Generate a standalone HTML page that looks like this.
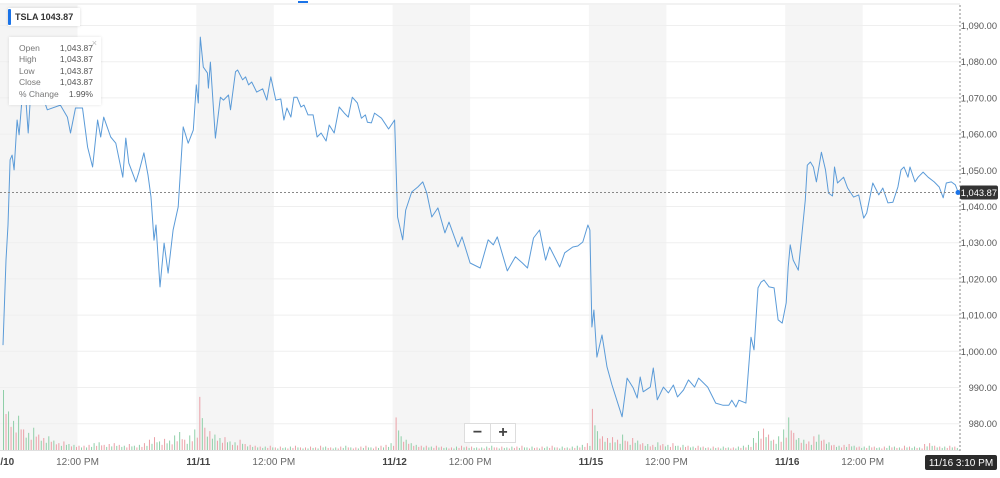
<!DOCTYPE html>
<html><head><meta charset="utf-8">
<style>
body{margin:0;background:#fff;width:1000px;height:478px;overflow:hidden;font-family:"Liberation Sans",sans-serif;}
svg{display:block}
</style></head>
<body>
<svg id="chart" width="1000" height="478" xmlns="http://www.w3.org/2000/svg"></svg>
<script>
// ---- data ----
const days = ["11/10","11/11","11/12","11/15","11/16"];
const yTicks = [980,990,1000,1010,1020,1030,1040,1050,1060,1070,1080,1090];
const yTickLabels = ["980.00","990.00","1,000.00","1,010.00","1,020.00","1,030.00","1,040.00","1,050.00","1,060.00","1,070.00","1,080.00","1,090.00"];
// minutes since open, per day
const d1Min = [2,8,12,16,20,24,30,34,40,46,52,58,64,70,90,116,130,136,146,160,170,180,190,196,202,216,226,240,246,252,266,272,282,290,296,302,306,314,322,330,340,350,360,370,380,386,390];
const d1Px  = [1001.7,1025.2,1034.9,1052.9,1054.2,1050.1,1063.9,1059.8,1070,1072.2,1060.3,1073.6,1070.8,1074.9,1066.7,1068,1064.7,1060.3,1067.2,1067.2,1056.4,1050.9,1063.9,1059.2,1064.7,1059.2,1057.5,1048.1,1058.9,1052,1046.8,1049.5,1054.8,1048.7,1042.6,1030.7,1034.9,1017.8,1029.9,1021.6,1033.5,1039.9,1062,1057.5,1061.1,1073.6,1068.6];
const d2Min = [4,10,18,20,24,34,44,50,60,64,74,78,88,94,100,106,116,128,136,144,154,164,170,176,184,190,196,204,210,218,228,236,244,254,260,270,280,290,298,306,316,324,332,336,344,350,364,378,390];
const d2Px  = [1086.8,1078.5,1076.9,1072.7,1079.9,1058.9,1070.2,1069.4,1070.8,1066.7,1077.2,1077.7,1075,1075.8,1073.6,1074.4,1071.6,1072.5,1069.4,1075.8,1069.4,1069.7,1063.9,1067.2,1064.7,1070.2,1070.2,1067.5,1068,1065.3,1065.3,1059.2,1060.3,1058.1,1062.5,1060.3,1067.5,1065.8,1064.7,1070.2,1068.6,1064.4,1065.3,1063.3,1063.1,1065.8,1064.4,1061.4,1063.9];
const d3Min = [6,16,22,34,46,56,64,74,86,100,108,126,134,150,170,186,196,204,224,240,254,264,276,288,300,308,328,338,354,364,374,384,388];
const d3Px  = [1037.1,1030.8,1039,1044,1045.4,1046.8,1043.7,1037.1,1039.6,1032.7,1035.7,1028.8,1031.6,1024.4,1023,1030.8,1029.4,1031.6,1022.2,1026.1,1024.4,1023,1031.3,1033.5,1025.2,1028.8,1023.3,1027.2,1028.8,1029.1,1030.2,1034.9,1033.5];
const d4Min = [2,6,12,22,32,42,62,72,84,92,98,104,118,124,132,144,154,164,172,184,194,206,214,232,248,262,274,280,288,294,308,318,324,332,338,344,354,364,372,380,388];
const d4Px  = [1006.7,1011.4,998.4,1004.5,995.7,990.7,981.9,992.6,989.9,987.1,992.9,988.8,990.1,995.4,986.6,990.1,988.5,990.7,987.4,989.3,992.1,990.1,992.6,990.1,985.7,985.1,985.1,986.5,984.6,986.5,985.7,1003.9,1000.4,1017.5,1019.1,1019.7,1017.8,1017.5,1008.7,1007.8,1013.4];
const d5Min = [2,6,12,22,36,40,46,52,58,68,76,82,90,94,100,112,120,132,142,152,158,170,182,190,200,210,220,226,232,240,244,254,260,270,280,292,302,310,316,326,334,340];
const d5Px  = [1023.3,1029.4,1025.2,1022.4,1041.8,1051.4,1052.3,1050.9,1046.8,1055,1050.1,1043.7,1042.9,1050.9,1046.5,1048.1,1045.1,1042.6,1043.2,1036.8,1038.2,1046.5,1043.2,1045.1,1041,1041.2,1045.4,1050.1,1050.9,1048.1,1050.9,1046.8,1048.1,1049.5,1048.1,1046.8,1045.4,1042.4,1046.5,1046.8,1046,1043.87];
const lastPrice = 1043.87;
// volume per 10-minute bar (thousands), 39 per day
const vol1 = [70,45,34,40,24,20,26,18,14,16,11,8,10,7,6,5,5,6,8,9,6,7,8,6,5,7,5,6,8,12,15,10,13,11,17,21,12,17,24];
const vol2 = [62,26,22,18,14,15,10,9,12,7,6,5,4,4,5,3,4,3,4,5,3,3,4,3,5,4,3,3,4,5,3,3,4,5,3,4,5,6,8];
const vol3 = [38,16,12,8,6,5,5,4,5,4,3,3,4,5,4,4,3,3,4,5,3,4,3,4,4,5,3,4,3,4,4,5,3,4,3,4,5,6,8];
const vol4 = [48,22,16,14,15,12,18,10,14,11,8,7,6,9,7,6,8,5,6,5,4,5,4,3,4,3,4,3,3,4,5,6,14,22,25,18,12,16,24];
const vol5 = [38,20,14,12,10,16,18,12,9,6,5,6,7,5,4,4,5,4,3,4,5,4,3,5,4,4,3,7,8,5,4,4,5,4,4,5,4,5,6];

// ---- layout ----
const svg = document.getElementById('chart');
const NS = 'http://www.w3.org/2000/svg';
const dayStart = [2,198.3,394.6,590.9,787.2];
const dayW = 196.3;
const xOf = (d,m) => dayStart[d] + m/390*dayW;
const yOf = v => 25.5 + (1090 - v) * 3.62;
const volBase = 450, volScale = 60/70;
function mk(tag, attrs, parent){ const e=document.createElementNS(NS,tag); for(const k in attrs) e.setAttribute(k,attrs[k]); (parent||svg).appendChild(e); return e; }

const topLine = mk('line',{x1:0,y1:4,x2:960,y2:4,stroke:'#e6e6e6','stroke-width':1});


const blueMark = mk('rect',{x:298,y:1,width:10,height:2,fill:'#1a73e8'});



days.forEach((d,i)=>{
  const r = mk('rect',{x:dayStart[i]-2,y:5,width:dayW*150/390+2,height:445,fill:'#f5f5f5'});
  
  
});
yTicks.forEach((v,i)=>{
  const g = mk('line',{x1:0,y1:yOf(v),x2:960,y2:yOf(v),stroke:'#efefef','stroke-width':1});
  
  
  const t = mk('text',{x:997,y:yOf(v)+3.5,'font-size':9.3,fill:'#555','text-anchor':'end'});
  t.textContent = yTickLabels[i];
  
  
});
const vols=[vol1,vol2,vol3,vol4,vol5];
const mins=[d1Min,d2Min,d3Min,d4Min,d5Min], pxs=[d1Px,d2Px,d3Px,d4Px,d5Px];
function priceAt(d,m){ const M=mins[d],P=pxs[d]; if(m<=M[0]) return P[0]; for(let i=1;i<M.length;i++){ if(m<=M[i]) return P[i-1]+(P[i]-P[i-1])*(m-M[i-1])/(M[i]-M[i-1]); } return P[P.length-1]; }
vols.forEach((arr,d)=>{
  arr.forEach((v,i)=>{
    const m = i*10+2;
    if (d===4 && m>340) return;
    const up = priceAt(d,m+10) >= priceAt(d,m);
    const h = v*volScale;
    const b = mk('rect',{x:xOf(d,m),y:volBase-h,width:1,height:h,fill: up?'#8fcfa8':'#eba0a7'});
    
    
    const h2 = h*0.6;
    const b2 = mk('rect',{x:xOf(d,m+5),y:volBase-h2,width:1,height:h2,fill: up?'#eba0a7':'#8fcfa8'});
    
    
  });
});
const volAxis = mk('line',{x1:0,y1:450.5,x2:960,y2:450.5,stroke:'#e0e0e0'});


let pts=[];
pxs.forEach((P,d)=>{ P.forEach((p,i)=>pts.push(xOf(d,mins[d][i]).toFixed(1)+','+yOf(p).toFixed(1))); });
const line = mk('polyline',{points:pts.join(' '),fill:'none',stroke:'#5b9bd8','stroke-width':1,'stroke-linejoin':'round'});


const hl = mk('line',{x1:0,y1:yOf(lastPrice),x2:960,y2:yOf(lastPrice),stroke:'#888','stroke-dasharray':'2,2'});


const vl = mk('line',{x1:960,y1:5,x2:960,y2:452,stroke:'#888','stroke-dasharray':'2,2'});


const dot = mk('circle',{cx:958,cy:yOf(lastPrice),r:2.5,fill:'#1a73e8'});


const pl = mk('rect',{x:960,y:yOf(lastPrice)-7,width:38,height:14,rx:2,fill:'#333'});


const pt = mk('text',{x:997,y:yOf(lastPrice)+3.5,'font-size':9.3,fill:'#fff','text-anchor':'end'});
pt.textContent='1,043.87';


days.forEach((d,i)=>{
  const t = mk('text',{x:dayStart[i],y:465,'font-size':10,'font-weight':'bold',fill:'#444','text-anchor':'middle'});
  t.textContent=d;
  
  
  const n = mk('text',{x:xOf(i,150),y:465,'font-size':10,fill:'#666','text-anchor':'middle'});
  n.textContent='12:00 PM';
  
  
});
const tb = mk('rect',{x:925,y:455,width:72,height:15,rx:2,fill:'#2b2b2b'});


const tt = mk('text',{x:961,y:466,'font-size':10,fill:'#fff','text-anchor':'middle'});
tt.textContent='11/16 3:10 PM';


</script>
<div style="position:absolute;left:464px;top:423px;width:50px;height:18px;background:#fff;border:1px solid #ddd;display:flex;font-size:16px;font-weight:bold;color:#444;">
  <div style="width:25px;text-align:center;line-height:17px;border-right:1px solid #ddd;">−</div>
  <div style="width:24px;text-align:center;line-height:17px;">+</div>
</div>
<div style="position:absolute;left:8px;top:8px;width:72px;height:18px;background:#fff;box-shadow:0 0 3px rgba(0,0,0,0.15);font-size:9px;font-weight:bold;color:#333;line-height:18px;">
  <span style="position:absolute;left:0;top:1px;width:3px;height:16px;background:#1a73e8;border-radius:1px;"></span>
  <span style="margin-left:7px;">TSLA 1043.87</span>
</div>
<div style="position:absolute;left:9px;top:37px;width:92px;height:68px;background:rgba(255,255,255,0.96);box-shadow:0 0 3px rgba(0,0,0,0.12);font-size:8.5px;color:#777;">
  <span style="position:absolute;right:4px;top:1px;color:#bbb;font-size:9px;">×</span>
  <div style="position:absolute;left:10px;top:6px;line-height:11.4px;">Open<br>High<br>Low<br>Close<br>% Change</div>
  <div style="position:absolute;right:8px;top:6px;line-height:11.4px;text-align:right;color:#555;">1,043.87<br>1,043.87<br>1,043.87<br>1,043.87<br>1.99%</div>
</div>
</body></html>
